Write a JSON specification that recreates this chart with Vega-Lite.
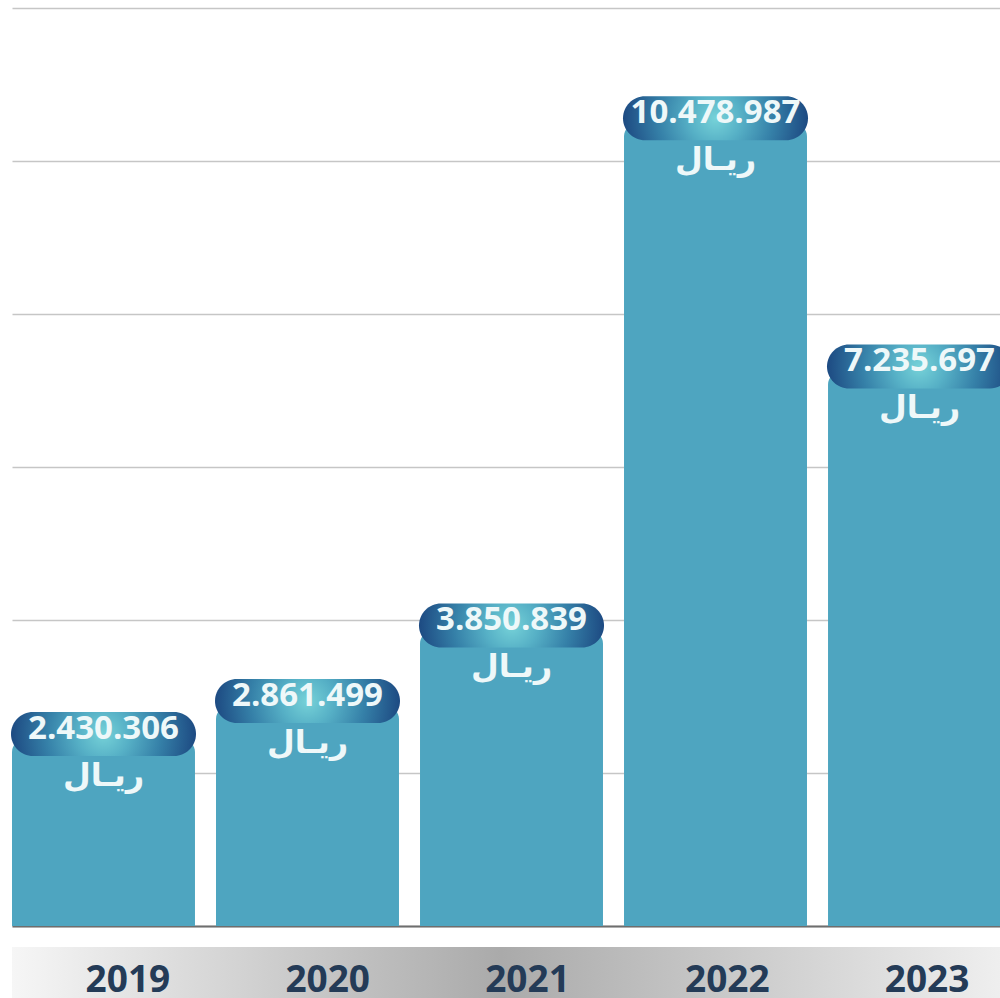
{
  "$schema": "https://vega.github.io/schema/vega-lite/v6.json",
  "padding": {"left": 10, "top": 8, "right": 0, "bottom": 0},
  "background": "white",
  "spacing": 21,
  "bounds": "flush",
  "config": {
    "view": {"stroke": null},
    "locale": {"number": {"decimal": ",", "thousands": ".", "grouping": [3], "currency": ["", ""]}}
  },
  "data": {
    "values": [
      {"year": "2019", "value": 2430306},
      {"year": "2020", "value": 2861499},
      {"year": "2021", "value": 3850839},
      {"year": "2022", "value": 10478987},
      {"year": "2023", "value": 7235697}
    ]
  },
  "vconcat": [
    {
      "width": 999,
      "height": 918,
      "encoding": {
        "x": {
          "field": "year", "type": "nominal", "sort": null,
          "scale": {"paddingInner": 0.103, "paddingOuter": 0},
          "axis": {"title": null, "labels": false, "ticks": false, "domain": true, "domainColor": "#6e6e6e", "domainWidth": 2, "grid": false}
        },
        "y": {
          "field": "value", "type": "quantitative",
          "scale": {"domain": [0, 12000000], "nice": false},
          "axis": {"title": null, "labels": false, "ticks": false, "domain": false, "grid": true, "gridColor": "#c6c6c6", "gridWidth": 1.5, "values": [0, 2000000, 4000000, 6000000, 8000000, 10000000, 12000000]}
        }
      },
      "layer": [
        {
          "mark": {"type": "bar", "color": "#4ea5c0", "cornerRadiusTopLeft": 12, "cornerRadiusTopRight": 12}
        },
        {
          "mark": {
            "type": "point", "filled": true, "opacity": 1, "yOffset": -6,
            "shape": "M -0.762 -0.238 L 0.762 -0.238 A 0.238 0.238 0 0 1 0.762 0.238 L -0.762 0.238 A 0.238 0.238 0 0 1 -0.762 -0.238 Z",
            "size": 34225,
            "fill": {
              "gradient": "radial", "x1": 0.5, "y1": 0.5, "r1": 0, "x2": 0.5, "y2": 0.5, "r2": 0.5,
              "stops": [
                {"offset": 0, "color": "#76d2d8"},
                {"offset": 0.28, "color": "#56b0c6"},
                {"offset": 0.62, "color": "#3580a8"},
                {"offset": 1, "color": "#1d4a82"}
              ]
            }
          }
        },
        {
          "mark": {"type": "text", "font": "Open Sans", "fontWeight": "bold", "fontSize": 33, "color": "#eef8f9", "baseline": "middle", "dy": -11},
          "encoding": {"text": {"field": "value", "type": "quantitative", "format": ",d"}}
        },
        {
          "mark": {"type": "text", "font": "DejaVu Sans", "fontWeight": "bold", "fontSize": 32, "color": "#eef8f9", "baseline": "middle", "dy": 36, "text": "ريـال"}
        }
      ]
    },
    {
      "width": 999,
      "height": 51,
      "view": {
        "stroke": null,
        "fill": {
          "gradient": "linear", "x1": 0, "y1": 0, "x2": 1, "y2": 0,
          "stops": [
            {"offset": 0, "color": "#f6f6f6"},
            {"offset": 0.49, "color": "#aaaaaa"},
            {"offset": 1, "color": "#f0f0f0"}
          ]
        }
      },
      "mark": {"type": "text", "font": "Open Sans", "fontWeight": "bold", "fontSize": 37, "color": "#243b57", "baseline": "alphabetic", "dx": 16, "dy": 19},
      "encoding": {
        "x": {"field": "year", "type": "nominal", "sort": null, "scale": {"paddingInner": 0.103, "paddingOuter": 0}, "axis": null},
        "text": {"field": "year"}
      }
    }
  ]
}
